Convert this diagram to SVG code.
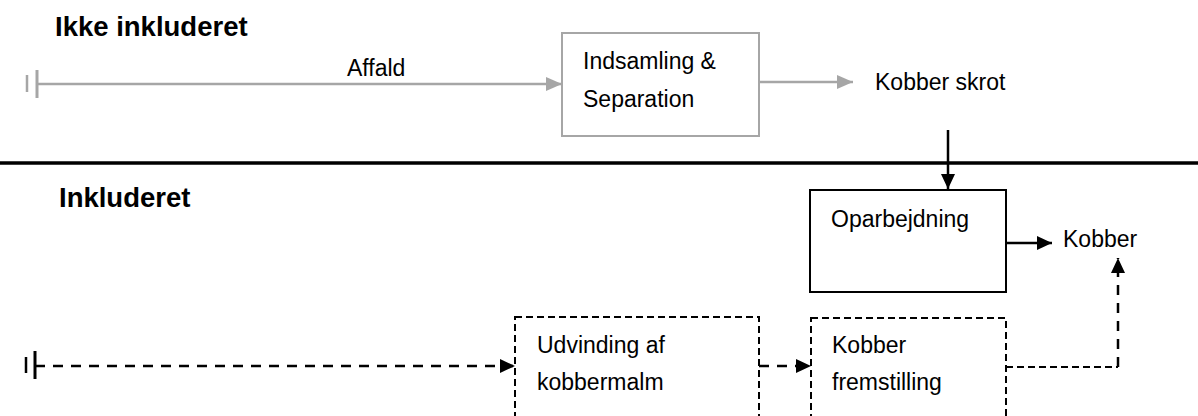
<svg xmlns="http://www.w3.org/2000/svg" width="1198" height="416" viewBox="0 0 1198 416">
  <style>
    text { font-family: "Liberation Sans", Arial, sans-serif; font-size: 23px; fill: #000; }
    .title { font-weight: bold; font-size: 27.5px; }
    .gray { stroke: #a6a6a6; stroke-width: 2.5; fill: none; }
    .solid { stroke: #000; stroke-width: 2.5; fill: none; }
    .dash { stroke: #000; stroke-width: 2.5; fill: none; stroke-dasharray: 10 8; }
    .dashfine { stroke: #000; stroke-width: 2; fill: none; stroke-dasharray: 7 4; }
    .box { fill: #fff; stroke-width: 2; }
  </style>
  <defs>
    <marker id="ag" markerUnits="userSpaceOnUse" markerWidth="17" markerHeight="16" refX="16" refY="8" orient="auto">
      <polygon points="0,1 16,8 0,15" fill="#a6a6a6"/>
    </marker>
    <marker id="ab" markerUnits="userSpaceOnUse" markerWidth="16" markerHeight="16" refX="15" refY="8" orient="auto">
      <polygon points="0,1 15,8 0,15" fill="#000"/>
    </marker>
  </defs>

  <rect width="1198" height="416" fill="#fff"/>

  <text class="title" x="55" y="36">Ikke inkluderet</text>
  <text class="title" x="59" y="207">Inkluderet</text>
  <line x1="0" y1="163" x2="1198" y2="163" stroke="#000" stroke-width="3.5"/>

  <g id="connectors">
    <line x1="27" y1="75" x2="27" y2="92" stroke="#a6a6a6" stroke-width="2.5"/>
    <line x1="37" y1="70" x2="37" y2="98" stroke="#a6a6a6" stroke-width="3"/>
    <path class="gray" d="M37,84 H562" marker-end="url(#ag)"/>
    <text x="347" y="76">Affald</text>
    <path class="gray" d="M759,82 H853" marker-end="url(#ag)"/>
    <path class="solid" d="M948,130 V189" marker-end="url(#ab)"/>
    <path class="solid" d="M1006,243 H1052" marker-end="url(#ab)"/>
    <line x1="26" y1="357" x2="26" y2="373" stroke="#000" stroke-width="2.5"/>
    <line x1="35" y1="351" x2="35" y2="379" stroke="#000" stroke-width="3"/>
    <path class="dash" d="M35,366 H515" marker-end="url(#ab)"/>
    <path class="dash" d="M759,366 H811" marker-end="url(#ab)"/>
    <path class="dashfine" d="M1006,367 H1118"/>
    <path class="dash" d="M1118,367 V258" marker-end="url(#ab)"/>
  </g>

  <g id="indsamling">
    <rect class="box" x="562" y="33" width="197" height="103" stroke="#a6a6a6"/>
    <text x="583" y="69">Indsamling &amp;</text>
    <text x="583" y="107">Separation</text>
  </g>

  <g id="kobberskrot">
    <text x="875" y="90">Kobber skrot</text>
  </g>

  <g id="oparbejdning">
    <rect class="box" x="810" y="190" width="196" height="102" stroke="#000"/>
    <text x="831" y="227">Oparbejdning</text>
  </g>

  <g id="kobber">
    <text x="1063" y="247">Kobber</text>
  </g>

  <g id="udvinding">
    <rect class="box" x="515" y="317" width="244" height="115" stroke="#000" stroke-dasharray="7 4"/>
    <text x="537" y="353">Udvinding af</text>
    <text x="537" y="390">kobbermalm</text>
  </g>

  <g id="fremstilling">
    <rect class="box" x="811" y="318" width="195" height="115" stroke="#000" stroke-dasharray="7 4"/>
    <text x="832" y="353">Kobber</text>
    <text x="832" y="390">fremstilling</text>
  </g>
</svg>
